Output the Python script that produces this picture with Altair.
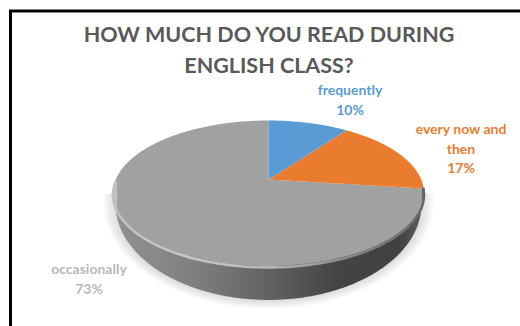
import altair as alt
import numpy as np
import pandas as pd

# Survey answers, clockwise from twelve o'clock
categories = ["frequently", "every now and then", "occasionally"]
shares = [10, 17, 73]
slice_colors = ["#5b9bd5", "#e97c2f", "#a1a1a1"]
title_lines = ["HOW MUCH DO YOU READ DURING", "ENGLISH CLASS?"]

TILT = 0.189      # foreshortening of the far side of the disc
X_PX, Y_PX = 152.7, 70.15   # pixels per disc unit
APEX_PX = (268.5, 179.5)

x_scale = alt.Scale(domain=[-APEX_PX[0] / X_PX, (520 - APEX_PX[0]) / X_PX], nice=False, zero=False)
y_scale = alt.Scale(domain=[-(326 - APEX_PX[1]) / Y_PX, APEX_PX[1] / Y_PX], nice=False, zero=False)


def rim(theta):
    """Project a point of the unit circle, measured clockwise from the far side."""
    u, v = np.sin(theta), np.cos(theta)
    w = 1 + TILT * v
    return u / w, v / w


def sector_band(start, end):
    """Upper and lower edge of one tilted pie sector at each x position."""
    t = np.linspace(start, end, 160)
    px, py = rim(t)
    poly_x = np.r_[0.0, px, 0.0]
    poly_y = np.r_[0.0, py, 0.0]
    xs = np.unique(np.r_[poly_x - 1e-6, poly_x + 1e-6])
    rows = []
    for x in xs:
        hits = []
        for i in range(len(poly_x) - 1):
            x0, x1 = poly_x[i], poly_x[i + 1]
            if x0 != x1 and min(x0, x1) <= x <= max(x0, x1):
                hits.append(poly_y[i] + (x - x0) / (x1 - x0) * (poly_y[i + 1] - poly_y[i]))
        if hits:
            rows.append({"x": x, "y": max(hits), "y2": min(hits)})
    return pd.DataFrame(rows)


def band(df, **mark):
    return alt.Chart(df).mark_area(orient="vertical", **mark).encode(
        x=alt.X("x:Q", scale=x_scale, axis=None),
        y=alt.Y("y:Q", scale=y_scale, axis=None),
        y2="y2:Q",
    )


def arc_line(df, **mark):
    return alt.Chart(df).mark_line(**mark).encode(
        x=alt.X("x:Q", scale=x_scale, axis=None),
        y=alt.Y("y:Q", scale=y_scale, axis=None),
    )


def base_outline(grow=0.0):
    """Lower edge of the disc's base, optionally grown for the drop shadow."""
    t = np.linspace(0, np.pi, 240)
    rx, ry = 1.002 + grow, 1.368 + grow * 1.6
    x = -rx * np.cos(t)
    return pd.DataFrame({"x": x, "y": -0.2, "y2": -0.349 - ry * np.sin(t)})


def stops(*pairs):
    return [alt.GradientStop(offset=o, color=c) for o, c in pairs]


def h_gradient(*pairs):
    return alt.Gradient(gradient="linear", x1=0, x2=1, y1=0, y2=0, stops=stops(*pairs))


layers = []

# soft shadow under the disc
for grow in (0.075, 0.06, 0.045, 0.03, 0.015):
    layers.append(band(base_outline(grow), color="#9a9a9a", opacity=0.07))

# side wall
layers.append(band(
    base_outline(),
    color=h_gradient((0, "#909090"), (0.25, "#808080"), (0.5, "#626262"),
                     (0.72, "#444444"), (0.93, "#414141"), (1, "#5c5c5c")),
))

# slices on the top face
edges = np.cumsum([0] + shares) / 100 * 2 * np.pi
for i in [2, 1, 0]:
    layers.append(band(sector_band(edges[i], edges[i + 1]), color=slice_colors[i]))

# bevel along the front rim: bright on the left, fading into the dark wall on the right
front = np.linspace(np.pi * 0.53, np.pi * 1.5, 260)
fx, fy = rim(front)
layers.append(arc_line(
    pd.DataFrame({"x": fx, "y": fy - 0.02}),
    strokeWidth=2.6,
    stroke=h_gradient((0, "#c0c0c0"), (0.25, "#c6c6c6"), (0.5, "#b8b8b8"),
                      (0.75, "#8a8a8a"), (1, "#666666")),
))

# frame of the chart box
frame = alt.Chart(pd.DataFrame({"a": [0]}))
layers.append(frame.mark_rule(color="black", strokeWidth=3).encode(
    x=alt.value(10.5), y=alt.value(11), y2=alt.value(326)))
layers.append(frame.mark_rule(color="black", strokeWidth=3).encode(
    x=alt.value(9), x2=alt.value(520), y=alt.value(11)))


# data labels
def label(text, x, y, color):
    return alt.Chart(pd.DataFrame({"t": [text]})).mark_text(
        font="Lato", fontWeight="bold", fontSize=14, color=color,
        lineBreak="\n", lineHeight=19.5, align="center", baseline="top",
    ).encode(text="t:N", x=alt.value(x), y=alt.value(y))


layers.append(label(f"{categories[0]}\n{shares[0]}%", 350, 84, slice_colors[0]))
layers.append(label(f"every now and\nthen\n{shares[1]}%", 461, 123, slice_colors[1]))
layers.append(label(f"{categories[2]}\n{shares[2]}%", 89, 263, "#b8b8b8"))

chart = alt.layer(*layers).properties(
    width=520,
    height=326,
    padding=0,
    autosize=alt.AutoSizeParams(type="none"),
    background="white",
    title=alt.TitleParams(
        text=title_lines, font="Lato", fontWeight="bold", fontSize=21.5, color="#595959",
        lineHeight=31, anchor="middle", dx=9, offset=-77, baseline="top",
    ),
).configure_view(stroke=None)

chart.save("out.html", embed_options={"renderer": "svg", "actions": False})
